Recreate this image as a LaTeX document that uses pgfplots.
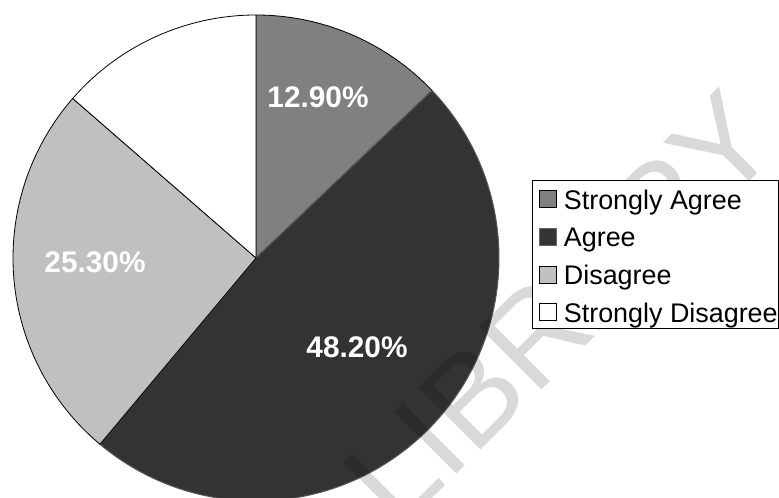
\documentclass[border=0pt]{standalone}
\usepackage{fontspec}
\setmainfont{Liberation Sans}
\usepackage{pgfplots}
\pgfplotsset{compat=1.18}
\definecolor{sa}{HTML}{808080}
\definecolor{ag}{HTML}{333333}
\definecolor{di}{HTML}{C0C0C0}
\definecolor{sd}{HTML}{FFFFFF}
\begin{document}
\begin{tikzpicture}
% slice values (percent), clockwise from 12 o'clock
\def\vA{12.9}\def\vB{48.2}\def\vC{25.3}\def\vD{13.6}
\pgfmathsetmacro\aA{90}
\pgfmathsetmacro\aB{\aA-3.6*\vA}
\pgfmathsetmacro\aC{\aB-3.6*\vB}
\pgfmathsetmacro\aD{\aC-3.6*\vC}
\pgfmathsetmacro\aE{\aD-3.6*\vD}
\begin{axis}[at={(0,0)}, anchor=south west,
  width=779bp, height=498bp, scale only axis,
  xmin=0, xmax=779, ymin=0, ymax=498, hide axis, clip=true,
  legend style={at={(0.68293,0.63855)}, anchor=north west, draw=black,
    line width=0.6pt, font=\fontsize{26.9bp}{30bp}\selectfont,
    inner xsep=1bp, inner ysep=0bp, row sep=2.7bp,
    nodes={inner sep=0bp, text height=29bp, text depth=6bp}},
  legend cell align=left,
  legend image code/.code={\draw[#1, line width=0.8pt] (6bp,-10bp) rectangle (23bp,7bp); \path (0bp,0bp) (30bp,0bp);},
]
\addlegendimage{fill=sa, draw=black}
\addlegendentry{Strongly Agree}
\addlegendimage{fill=ag, draw=black!60}
\addlegendentry{Agree}
\addlegendimage{fill=di, draw=black}
\addlegendentry{Disagree}
\addlegendimage{fill=sd, draw=black}
\addlegendentry{Strongly Disagree}

\filldraw[fill=sa, draw=black, line width=0.8bp] (axis cs:256,240) -- ++(\aA:243bp) arc[start angle=\aA, end angle=\aB, radius=243bp] -- cycle;
\filldraw[fill=ag, draw=black!65, line width=1bp] (axis cs:256,240) -- ++(\aB:243bp) arc[start angle=\aB, end angle=\aC, radius=243bp] -- cycle;
\filldraw[fill=di, draw=black, line width=0.8bp] (axis cs:256,240) -- ++(\aC:243bp) arc[start angle=\aC, end angle=\aD, radius=243bp] -- cycle;
\filldraw[fill=sd, draw=black, line width=0.8bp] (axis cs:256,240) -- ++(\aD:243bp) arc[start angle=\aD, end angle=\aE, radius=243bp] -- cycle;

\node[text=white, inner sep=0, font=\bfseries\fontsize{29.8bp}{30bp}\selectfont] at (axis cs:318,400.5) {12.90\%};
\node[text=white, inner sep=0, font=\bfseries\fontsize{29.8bp}{30bp}\selectfont] at (axis cs:357,150.5) {48.20\%};
\node[text=white, inner sep=0, font=\bfseries\fontsize{29.8bp}{30bp}\selectfont] at (axis cs:95,235.5) {25.30\%};

\node[rotate=45, opacity=0.15, text=black, inner sep=0, font=\fontsize{128bp}{128bp}\selectfont] at (axis cs:560,189) {LIBRARY};
\end{axis}
\pgfresetboundingbox
\useasboundingbox (0,0) rectangle (779bp,498bp);
\end{tikzpicture}
\end{document}
